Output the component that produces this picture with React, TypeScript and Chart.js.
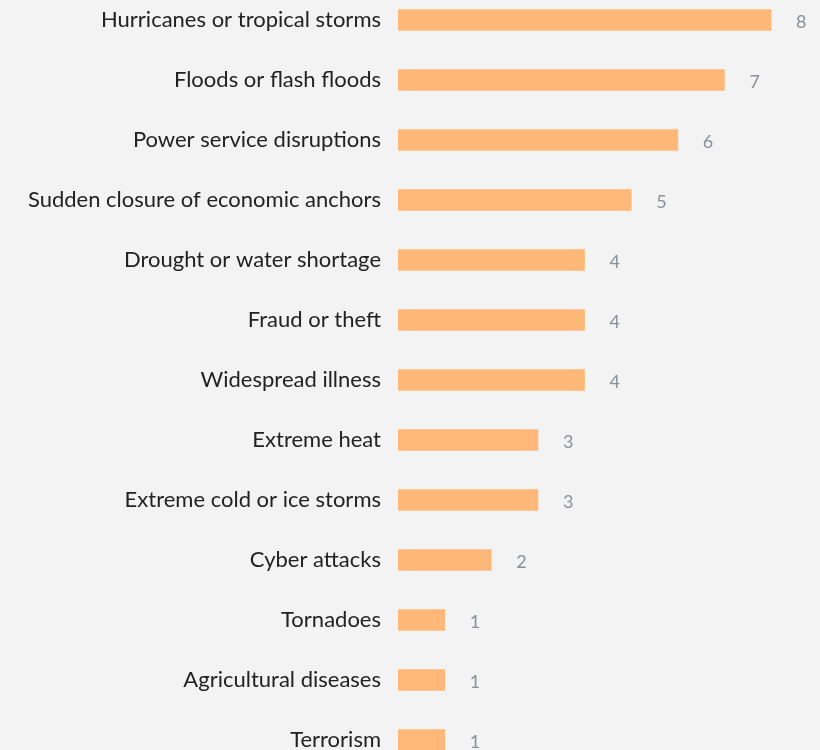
import React, { useEffect, useRef } from "react";
import { Chart, registerables } from "chart.js";

Chart.register(...registerables);

const categories = [
  "Hurricanes or tropical storms",
  "Floods or flash floods",
  "Power service disruptions",
  "Sudden closure of economic anchors",
  "Drought or water shortage",
  "Fraud or theft",
  "Widespread illness",
  "Extreme heat",
  "Extreme cold or ice storms",
  "Cyber attacks",
  "Tornadoes",
  "Agricultural diseases",
  "Terrorism",
];
const counts = [8, 7, 6, 5, 4, 4, 4, 3, 3, 2, 1, 1, 1];

const BG = "#f2f3f2";

const valueLabels = {
  id: "valueLabels",
  afterDatasetsDraw(chart: any) {
    const ctx = chart.ctx;
    const meta = chart.getDatasetMeta(0);
    ctx.save();
    ctx.font = "18px Lato";
    ctx.fillStyle = "#8b9097";
    ctx.textAlign = "left";
    ctx.textBaseline = "middle";
    meta.data.forEach((bar: any, i: number) => {
      ctx.fillText(String(counts[i]), bar.x + 25, bar.y + 2);
    });
    ctx.restore();
  },
};

export default function App() {
  const ref = useRef<HTMLCanvasElement>(null);
  useEffect(() => {
    document.body.style.margin = "0";
    document.body.style.background = BG;
    const chart = new Chart(ref.current!, {
      type: "bar",
      data: {
        labels: categories,
        datasets: [
          {
            data: counts,
            backgroundColor: "#ffb877",
            borderWidth: 0,
            barThickness: 21,
          },
        ],
      },
      options: {
        indexAxis: "y",
        animation: false,
        responsive: false,
        maintainAspectRatio: false,
        layout: { padding: 0 },
        plugins: { legend: { display: false }, tooltip: { enabled: false } },
        scales: {
          x: { display: false, min: 0, max: 9.05 },
          y: {
            afterFit: (s: any) => {
              s.width = 398;
              s.paddingTop = 0;
              s.paddingBottom = 0;
            },
            grid: { display: false, drawTicks: false, tickLength: 0 },
            border: { display: false },
            ticks: {
              padding: 17,
              color: "#222222",
              font: { family: "Lato", size: 22 },
            },
          },
        },
      },
      plugins: [valueLabels],
    });
    return () => chart.destroy();
  }, []);
  return (
    <div
      style={{
        position: "fixed",
        top: -10,
        left: 0,
        width: 820,
        height: 780,
        background: BG,
      }}
    >
      <canvas ref={ref} width={820} height={780} style={{ display: "block" }} />
    </div>
  );
}
